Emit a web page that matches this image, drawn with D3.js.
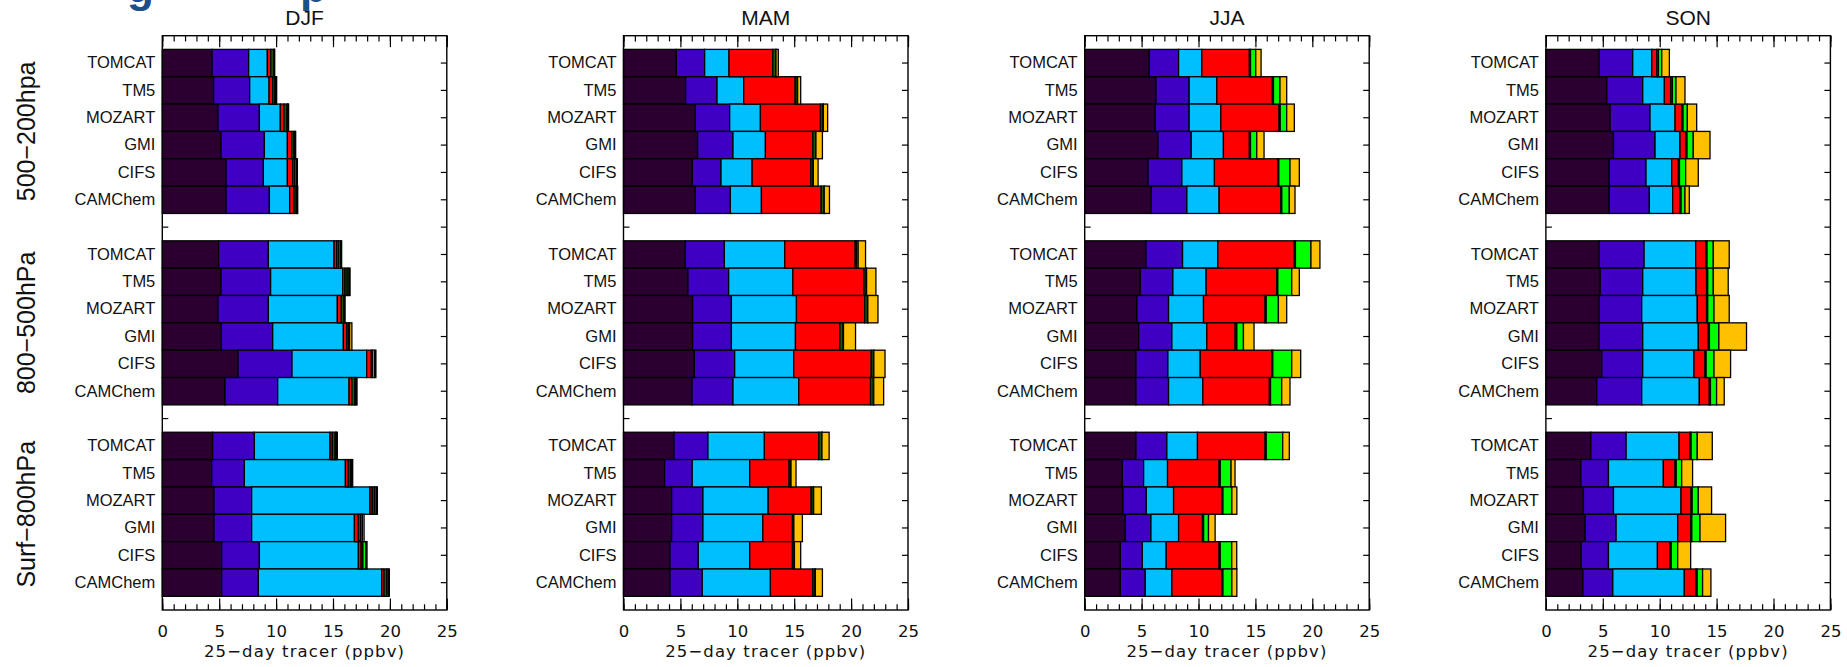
<!DOCTYPE html>
<html><head><meta charset="utf-8">
<script src="https://cdn.jsdelivr.net/npm/d3@7"></script>
<style>body{margin:0;background:#fff}svg{display:block}</style>
</head><body><svg id="c" width="1847" height="667"></svg>
<script>
// ---------- data ----------
const seasons = ["DJF", "MAM", "JJA", "SON"];
const models = ["TOMCAT", "TM5", "MOZART", "GMI", "CIFS", "CAMChem"];
const levels = ["500\u2212200hpa", "800\u2212500hPa", "Surf\u2212800hPa"];
const xTicks = [0, 5, 10, 15, 20, 25];
const xMinorTicks = d3.range(0, 26, 1);
const xTitle = "25\u2212day tracer (ppbv)";
const segColors = ["#2b0030", "#4000c4", "#00bfff", "#ff0000", "#1e5a00", "#00ff00", "#ffc000"];

// rows: level-major (500-200, 800-500, Surf-800), 6 models each; 7 stacked components per row
const djf = [
  [4.37, 3.22, 1.64, 0.30, 0.25, 0.05, 0.05],
  [4.51, 3.17, 1.70, 0.32, 0.20, 0.10, 0.05],
  [4.89, 3.64, 1.84, 0.32, 0.25, 0.10, 0.06],
  [5.16, 3.81, 2.02, 0.38, 0.20, 0.10, 0.05],
  [5.60, 3.28, 2.11, 0.47, 0.20, 0.15, 0.06],
  [5.60, 3.81, 1.78, 0.38, 0.20, 0.08, 0.05],
  [4.95, 4.37, 5.77, 0.23, 0.20, 0.15, 0.09],
  [5.16, 4.36, 6.33, 0.20, 0.20, 0.15, 0.10],
  [4.89, 4.43, 6.06, 0.35, 0.20, 0.08, 0.05],
  [5.19, 4.51, 6.21, 0.30, 0.15, 0.10, 0.20],
  [6.65, 4.75, 6.56, 0.41, 0.10, 0.20, 0.10],
  [5.51, 4.63, 6.27, 0.25, 0.25, 0.10, 0.10],
  [4.42, 3.67, 6.65, 0.20, 0.25, 0.10, 0.09],
  [4.34, 2.87, 8.88, 0.25, 0.20, 0.10, 0.09],
  [4.54, 3.31, 10.40, 0.20, 0.20, 0.15, 0.10],
  [4.54, 3.31, 9.03, 0.35, 0.20, 0.15, 0.15],
  [5.22, 3.31, 8.70, 0.25, 0.15, 0.25, 0.11],
  [5.22, 3.22, 10.84, 0.20, 0.25, 0.12, 0.10]
];
const mam = [
  [4.64, 2.49, 2.14, 3.85, 0.26, 0.02, 0.20],
  [5.46, 2.76, 2.34, 4.52, 0.20, 0.02, 0.27],
  [6.31, 3.02, 2.70, 5.28, 0.23, 0.02, 0.38],
  [6.51, 3.11, 2.85, 4.17, 0.25, 0.02, 0.57],
  [6.04, 2.53, 2.73, 5.16, 0.20, 0.02, 0.42],
  [6.31, 3.08, 2.73, 5.25, 0.25, 0.02, 0.46],
  [5.43, 3.43, 5.31, 6.19, 0.10, 0.16, 0.65],
  [5.66, 3.58, 5.64, 6.25, 0.20, 0.03, 0.82],
  [6.07, 3.41, 5.72, 5.99, 0.25, 0.03, 0.89],
  [6.07, 3.41, 5.63, 3.90, 0.29, 0.03, 1.06],
  [6.22, 3.55, 5.19, 6.81, 0.20, 0.03, 0.98],
  [6.02, 3.60, 5.78, 6.31, 0.25, 0.03, 0.87],
  [4.43, 2.99, 4.96, 4.79, 0.25, 0.02, 0.63],
  [3.61, 2.43, 5.05, 3.46, 0.15, 0.02, 0.44],
  [4.23, 2.75, 5.73, 3.78, 0.20, 0.02, 0.68],
  [4.23, 2.75, 5.26, 2.61, 0.10, 0.02, 0.75],
  [4.08, 2.49, 4.52, 3.76, 0.15, 0.02, 0.55],
  [4.08, 2.84, 5.99, 3.73, 0.20, 0.02, 0.62]
];
const jja = [
  [5.67, 2.58, 2.04, 4.18, 0.10, 0.46, 0.47],
  [6.26, 2.92, 2.43, 4.88, 0.10, 0.57, 0.59],
  [6.20, 2.98, 2.78, 5.12, 0.10, 0.57, 0.67],
  [6.43, 2.93, 2.83, 2.28, 0.10, 0.55, 0.64],
  [5.56, 2.98, 2.86, 5.56, 0.10, 0.98, 0.82],
  [5.85, 3.13, 2.83, 5.41, 0.10, 0.66, 0.50],
  [5.38, 3.22, 3.10, 6.72, 0.10, 1.36, 0.79],
  [4.88, 2.87, 2.92, 6.20, 0.10, 1.22, 0.67],
  [4.59, 2.78, 3.07, 5.41, 0.10, 1.07, 0.73],
  [4.74, 2.92, 3.07, 2.49, 0.15, 0.58, 0.93],
  [4.50, 2.81, 2.84, 6.28, 0.10, 1.66, 0.79],
  [4.50, 2.87, 3.01, 5.85, 0.10, 0.98, 0.73],
  [4.50, 2.72, 2.69, 5.94, 0.10, 1.45, 0.58],
  [3.30, 1.88, 2.10, 4.53, 0.10, 0.95, 0.35],
  [3.36, 2.05, 2.40, 4.24, 0.10, 0.78, 0.44],
  [3.57, 2.25, 2.43, 2.10, 0.10, 0.43, 0.58],
  [3.13, 1.93, 2.10, 4.65, 0.10, 1.01, 0.44],
  [3.13, 2.19, 2.34, 4.39, 0.10, 0.78, 0.44]
];
const son = [
  [4.68, 2.95, 1.67, 0.44, 0.15, 0.29, 0.67],
  [5.35, 3.16, 1.90, 0.55, 0.15, 0.32, 0.79],
  [5.64, 3.51, 2.20, 0.58, 0.12, 0.38, 0.82],
  [5.94, 3.65, 2.19, 0.50, 0.12, 0.55, 1.47],
  [5.56, 3.24, 2.25, 0.59, 0.10, 0.54, 1.11],
  [5.56, 3.53, 2.05, 0.64, 0.10, 0.34, 0.38],
  [4.68, 3.95, 4.53, 0.90, 0.10, 0.55, 1.40],
  [4.77, 3.74, 4.68, 0.93, 0.10, 0.49, 1.31],
  [4.68, 3.74, 4.88, 0.82, 0.10, 0.55, 1.34],
  [4.68, 3.83, 4.88, 0.88, 0.10, 0.83, 2.43],
  [4.91, 3.60, 4.50, 0.97, 0.10, 0.69, 1.46],
  [4.47, 3.95, 5.06, 0.88, 0.10, 0.54, 0.67],
  [3.95, 3.10, 4.65, 0.96, 0.10, 0.54, 1.32],
  [3.07, 2.43, 4.82, 1.03, 0.10, 0.48, 0.96],
  [3.30, 2.64, 5.93, 0.88, 0.10, 0.54, 1.17],
  [3.45, 2.72, 5.41, 1.14, 0.10, 0.72, 2.25],
  [3.10, 2.40, 4.30, 1.11, 0.10, 0.57, 1.14],
  [3.25, 2.63, 6.28, 1.03, 0.10, 0.48, 0.73]
];
const seasonData = [djf, mam, jja, son];

// ---------- layout ----------
const svg = d3.select("#c");
const panelLeft0 = 162.3, panelStep = 461.2, W = 284.5, plotTop = 35.7, H = 574.3;

// slot ids: 6 models per level, with an empty slot between levels
const slotIds = [];
levels.forEach((lv, g) => {
  models.forEach((m, i) => slotIds.push(g + "-" + i));
  if (g < levels.length - 1) slotIds.push("gap" + g);
});
const slotOf = r => Math.floor(r / 6) + "-" + (r % 6);
const labelOf = id => id.startsWith("gap") ? "" : models[+id.split("-")[1]];

const x = d3.scaleLinear().domain([0, 25]).range([0, W]);
const y = d3.scaleBand().domain(slotIds).range([0, H]).paddingInner(0).paddingOuter(0.5);
const stack = d3.stack().keys(d3.range(7));

const sansH = "'Liberation Sans', Arial, Helvetica, sans-serif";
const sansD = "'DejaVu Sans', Verdana, sans-serif";

// cut-off slide title fragments at the very top
const titleFrag = svg.append("g").attr("fill", "#1f4e8c").attr("font-family", sansH).attr("font-weight", "bold").attr("font-size", 44);
titleFrag.append("text").attr("x", 127).attr("y", 2).text("g");
titleFrag.append("text").attr("x", 300).attr("y", 2).text("p");

seasons.forEach((s, si) => {
  const g = svg.append("g").attr("transform", `translate(${panelLeft0 + si * panelStep},${plotTop})`);
  const rows = seasonData[si];

  // y ticks left (labels) and right
  const ya = g.append("g").call(d3.axisLeft(y).tickSize(-6).tickSizeOuter(0).tickPadding(7).tickFormat(labelOf));
  ya.select(".domain").remove();
  ya.selectAll("line").attr("stroke", "#000").attr("stroke-width", 1.2);
  ya.selectAll("text").attr("font-family", sansH).attr("font-size", 16.5).attr("fill", "#111");
  const yr = g.append("g").attr("transform", `translate(${W},0)`).call(d3.axisRight(y).tickSize(-6).tickSizeOuter(0).tickFormat(""));
  yr.select(".domain").remove();
  yr.selectAll("line").attr("stroke", "#000").attr("stroke-width", 1.2);

  // x axes bottom / top with minor ticks (inward)
  const xb = g.append("g").attr("transform", `translate(0,${H})`).call(d3.axisBottom(x).tickValues(xTicks).tickSize(-11.5).tickSizeOuter(0));
  xb.select(".domain").remove();
  xb.selectAll("line").attr("stroke", "#000").attr("stroke-width", 1.2);
  xb.selectAll("text").attr("y", 27).attr("dy", null).attr("font-family", sansD).attr("font-size", 16.5).attr("fill", "#111");
  const xbm = g.append("g").attr("transform", `translate(0,${H})`).call(d3.axisBottom(x).tickValues(xMinorTicks).tickSize(-5.7).tickSizeOuter(0).tickFormat(""));
  xbm.select(".domain").remove();
  xbm.selectAll("line").attr("stroke", "#000").attr("stroke-width", 1.2);
  const xt = g.append("g").call(d3.axisTop(x).tickValues(xTicks).tickSize(-11.5).tickSizeOuter(0).tickFormat(""));
  xt.select(".domain").remove();
  xt.selectAll("line").attr("stroke", "#000").attr("stroke-width", 1.2);
  const xtm = g.append("g").call(d3.axisTop(x).tickValues(xMinorTicks).tickSize(-5.7).tickSizeOuter(0).tickFormat(""));
  xtm.select(".domain").remove();
  xtm.selectAll("line").attr("stroke", "#000").attr("stroke-width", 1.2);

  // stacked bars
  const series = stack(rows);
  g.append("g").selectAll("g").data(series).join("g")
    .attr("fill", (d, i) => segColors[i])
    .selectAll("rect").data(d => d.map((v, r) => ({ v, r }))).join("rect")
    .attr("x", d => x(d.v[0]))
    .attr("width", d => x(d.v[1]) - x(d.v[0]))
    .attr("y", d => y(slotOf(d.r)))
    .attr("height", y.bandwidth())
    .attr("stroke", "#000").attr("stroke-width", 1.3);

  // frame
  g.append("rect").attr("width", W).attr("height", H).attr("fill", "none").attr("stroke", "#000").attr("stroke-width", 1.4);

  // season title
  g.append("text").attr("x", W / 2).attr("y", 25 - plotTop).attr("text-anchor", "middle")
    .attr("font-family", sansH).attr("font-size", 21).attr("fill", "#111").text(s);

  // x title
  g.append("text").attr("x", W / 2).attr("y", 657 - plotTop).attr("text-anchor", "middle")
    .attr("font-family", sansD).attr("font-size", 16.5).attr("letter-spacing", 1.1).attr("fill", "#111").text(xTitle);
});

// level labels (rotated) on the far left
levels.forEach((lv, gi) => {
  const ids = slotIds.filter(id => id.startsWith(gi + "-"));
  const cy = plotTop + (y(ids[0]) + y(ids[ids.length - 1]) + y.bandwidth()) / 2;
  svg.append("text").attr("transform", `translate(35,${cy}) rotate(-90)`).attr("text-anchor", "middle")
    .attr("font-family", sansH).attr("font-size", 25).attr("fill", "#111").text(lv);
});
</script></body></html>
